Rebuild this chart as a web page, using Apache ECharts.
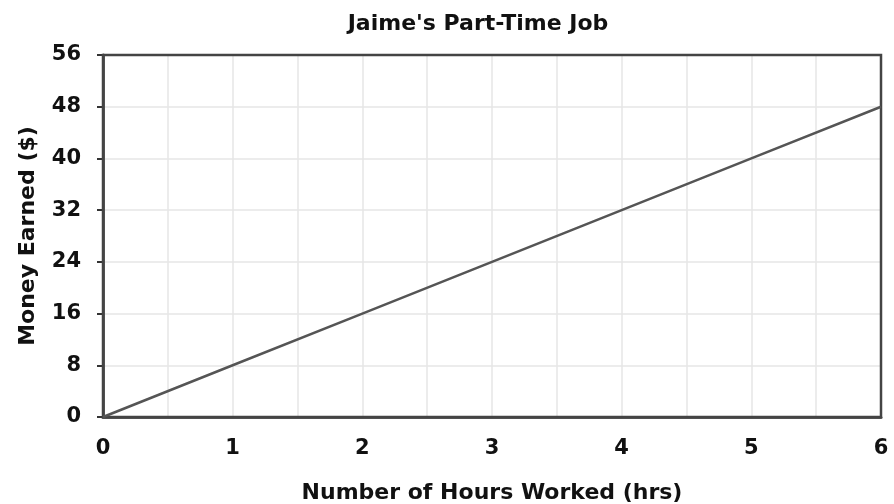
<!DOCTYPE html>
<html>
<head>
<meta charset="utf-8">
<style>
  html, body { margin: 0; padding: 0; background: #fff; }
  #main { width: 894px; height: 504px; }
</style>
<script src="https://cdn.jsdelivr.net/npm/echarts@6/dist/echarts.min.js"></script>
</head>
<body>
<div id="main"></div>
<script>
// data
var hours = [0, 1, 2, 3, 4, 5, 6];
var money = [0, 8, 16, 24, 32, 40, 48];

var chart = echarts.init(document.getElementById('main'));
var font = 'DejaVu Sans';

chart.setOption({
  animation: false,
  title: {
    text: "Jaime's Part-Time Job",
    left: 473,
    textAlign: 'center',
    top: 8,
    textStyle: { fontFamily: font, fontWeight: 'bold', fontSize: 22, color: '#111' }
  },
  grid: {
    left: 103, right: 13, top: 55, bottom: 87,
    outerBoundsMode: 'none',
    show: true,
    borderColor: '#444',
    borderWidth: 2.5,
    z: 3
  },
  xAxis: {
    type: 'value',
    min: 0, max: 6, interval: 1,
    name: 'Number of Hours Worked (hrs)',
    nameLocation: 'middle',
    nameGap: 65,
    nameTextStyle: { fontFamily: font, fontWeight: 'bold', fontSize: 22, color: '#111' },
    axisLine: { lineStyle: { color: '#555', width: 3 } },
    axisTick: { show: false },
    minorTick: { show: false, splitNumber: 2 },
    splitLine: { show: true, lineStyle: { color: '#e6e6e6', width: 1.5 } },
    minorSplitLine: { show: true, lineStyle: { color: '#e6e6e6', width: 1.5 } },
    axisLabel: { margin: 21, fontFamily: font, fontWeight: 'bold', fontSize: 21, color: '#111' }
  },
  yAxis: {
    type: 'value',
    min: 0, max: 56, interval: 8,
    name: 'Money Earned ($)',
    nameLocation: 'middle',
    nameGap: 64,
    nameTextStyle: { fontFamily: font, fontWeight: 'bold', fontSize: 22, color: '#111' },
    axisLine: { show: true, lineStyle: { color: '#555', width: 3 } },
    axisTick: { show: true, length: 6, lineStyle: { color: '#333', width: 2 } },
    splitLine: { show: true, lineStyle: { color: '#e6e6e6', width: 1.5 } },
    axisLabel: { margin: 22, fontFamily: font, fontWeight: 'bold', fontSize: 21, color: '#111' }
  },
  series: [{
    type: 'line',
    data: hours.map(function (h, i) { return [h, money[i]]; }),
    showSymbol: false,
    lineStyle: { color: '#555', width: 2.5 }
  }]
});
</script>
</body>
</html>
